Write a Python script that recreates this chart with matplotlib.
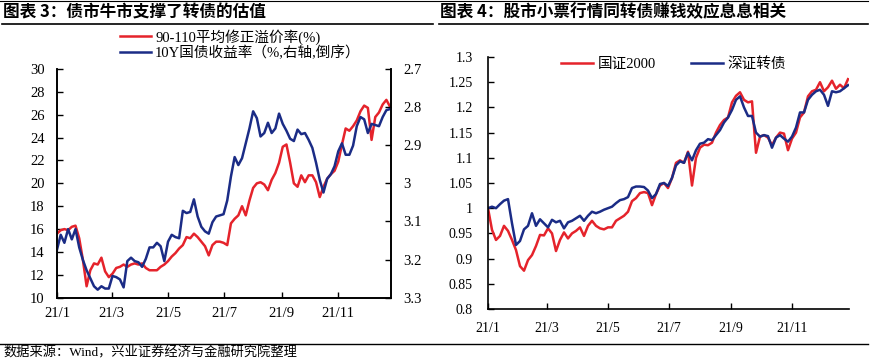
import matplotlib
matplotlib.use("Agg")
import matplotlib.pyplot as plt
import pandas as pd
from matplotlib.lines import Line2D

plt.rcParams['font.family'] = ['Liberation Serif', 'Noto Sans CJK SC']
TITLE_FONT = ['Noto Sans CJK SC', 'DejaVu Sans']

RED = '#E5232B'
BLUE = '#1B2C86'

premium_90_110 = [
    15.6, 15.9, 16.0, 15.9, 16.2, 16.3, 15.2, 13.3, 11.0, 12.4,
    13.0, 12.9, 13.5, 12.3, 11.8, 12.1, 12.6, 12.7, 12.9, 12.7,
    12.9, 13.0, 12.9, 13.0, 12.6, 12.4, 12.4, 12.4, 12.7, 12.9,
    13.2, 13.6, 13.9, 14.3, 14.6, 15.3, 15.2, 15.6, 15.3, 14.9,
    14.5, 13.7, 14.6, 14.9, 14.9, 14.8, 14.6, 16.5, 16.9, 17.2,
    18.0, 17.2, 18.5, 19.6, 20.0, 20.1, 19.9, 19.4, 20.3, 20.9,
    21.8, 23.2, 23.4, 21.8, 20.0, 19.7, 20.7, 20.1, 20.7, 20.7,
    20.1, 18.8, 19.7, 20.4, 20.8, 21.1, 21.9, 23.4, 24.8, 24.6,
    25.0, 25.5, 26.3, 26.8, 26.6, 23.8, 25.8, 26.2, 26.9, 27.3,
    26.7,
]
yield_10y = [
    3.174, 3.135, 3.156, 3.120, 3.147, 3.120, 3.168, 3.201, 3.228, 3.249,
    3.270, 3.279, 3.270, 3.276, 3.276, 3.243, 3.246, 3.252, 3.273, 3.204,
    3.195, 3.204, 3.207, 3.219, 3.198, 3.168, 3.168, 3.156, 3.165, 3.204,
    3.153, 3.135, 3.141, 3.144, 3.072, 3.078, 3.075, 3.042, 3.087, 3.114,
    3.126, 3.132, 3.102, 3.087, 3.084, 3.081, 3.045, 2.982, 2.931, 2.952,
    2.934, 2.895, 2.856, 2.811, 2.829, 2.877, 2.868, 2.841, 2.868, 2.856,
    2.817, 2.844, 2.862, 2.883, 2.889, 2.859, 2.871, 2.868, 2.886, 2.907,
    2.946, 2.991, 3.024, 2.988, 2.976, 2.955, 2.916, 2.895, 2.925, 2.925,
    2.901, 2.850, 2.826, 2.832, 2.868, 2.844, 2.847, 2.850, 2.826, 2.808,
    2.805,
]
gz2000 = [
    1.000, 0.957, 0.937, 0.945, 0.965, 0.955, 0.937, 0.917, 0.885, 0.876,
    0.897, 0.907, 0.925, 0.947, 0.946, 0.960, 0.950, 0.915, 0.937, 0.952,
    0.940, 0.950, 0.955, 0.962, 0.945, 0.965, 0.975, 0.965, 0.960, 0.958,
    0.962, 0.962, 0.975, 0.980, 0.985, 0.993, 1.014, 1.020, 1.030, 1.032,
    1.030, 1.006, 1.028, 1.045, 1.050, 1.040, 1.060, 1.090, 1.095, 1.090,
    1.112, 1.045, 1.100, 1.120, 1.126, 1.125, 1.130, 1.150, 1.165, 1.175,
    1.180, 1.210, 1.223, 1.230, 1.215, 1.210, 1.212, 1.110, 1.142, 1.145,
    1.140, 1.125, 1.140, 1.150, 1.148, 1.115, 1.138, 1.150, 1.180, 1.190,
    1.222, 1.232, 1.235, 1.250, 1.232, 1.240, 1.253, 1.237, 1.245, 1.238,
    1.256,
]
szcb = [
    1.000, 1.003, 1.000, 1.008, 1.015, 1.018, 0.970, 0.927, 0.935, 0.958,
    0.965, 0.990, 0.965, 0.978, 0.970, 0.962, 0.977, 0.972, 0.975, 0.960,
    0.972, 0.975, 0.980, 0.985, 0.975, 0.985, 0.993, 0.990, 0.993, 0.997,
    1.000, 1.003, 1.010, 1.016, 1.018, 1.022, 1.040, 1.043, 1.043, 1.042,
    1.035, 1.020, 1.028, 1.048, 1.050, 1.044, 1.060, 1.085, 1.093, 1.090,
    1.110, 1.095, 1.115, 1.128, 1.130, 1.137, 1.135, 1.145, 1.155, 1.170,
    1.180, 1.195, 1.215, 1.222, 1.200, 1.183, 1.183, 1.150, 1.142, 1.145,
    1.143, 1.120, 1.140, 1.145, 1.138, 1.132, 1.142, 1.160, 1.190, 1.190,
    1.215, 1.225, 1.232, 1.235, 1.225, 1.203, 1.232, 1.230, 1.232, 1.238,
    1.244,
]

tick_dates = ['2021-01-01', '2021-03-01', '2021-05-01', '2021-07-01', '2021-09-01', '2021-11-01']
tick_labels = ['21/1', '21/3', '21/5', '21/7', '21/9', '21/11']
left_yticks = [10, 12, 14, 16, 18, 20, 22, 24, 26, 28, 30]
right_yticks = [2.7, 2.8, 2.9, 3.0, 3.1, 3.2, 3.3]
panel4_yticks = [0.8, 0.85, 0.9, 0.95, 1.0, 1.05, 1.1, 1.15, 1.2, 1.25, 1.3]


def dates_for(vals):
    return pd.date_range('2021-01-01', periods=len(vals), freq='4D')


def fmt(v):
    return f"{v:g}"


def style_axis(ax, size):
    ax.tick_params(direction='in', length=4, width=1, labelsize=size, colors='black')
    ax.set_xticks(pd.to_datetime(tick_dates))
    ax.set_xticklabels(tick_labels)
    ax.set_xlim(pd.Timestamp('2021-01-01'), pd.Timestamp('2021-12-28'))
    for s in ax.spines.values():
        s.set_linewidth(1.2)
    ax.spines['top'].set_visible(False)


fig = plt.figure(figsize=(8.72, 3.6), dpi=100)

# ---- panel 3 ----
ax = fig.add_axes([57 / 872, 1 - 297.7 / 360, 334 / 872, 228.7 / 360])
ax.plot(dates_for(premium_90_110), premium_90_110, color=RED, lw=1.8,
        label='90-110平均修正溢价率(%)')
ax.set_ylim(10, 30)
ax.set_yticks(left_yticks)
ax.set_yticklabels([fmt(v) for v in left_yticks])
style_axis(ax, 10.5)
ax.tick_params(axis='y', pad=9)
ax.tick_params(axis='x', pad=7)

ax2 = ax.twinx()
ax2.plot(dates_for(yield_10y), yield_10y, color=BLUE, lw=1.8,
         label='10Y国债收益率（%,右轴,倒序）')
ax2.set_ylim(3.3, 2.7)
ax2.set_yticks(right_yticks)
ax2.set_yticklabels([fmt(v) for v in right_yticks])
ax2.tick_params(direction='in', length=4, width=1, labelsize=10.5, pad=9)
for s in ax2.spines.values():
    s.set_linewidth(1.2)
ax2.spines['top'].set_visible(False)

h1, l1 = ax.get_legend_handles_labels()
h2, l2 = ax2.get_legend_handles_labels()
fig.legend(h1 + h2, l1 + l2, loc='upper left', bbox_to_anchor=(120 / 872, 1 - 29 / 360),
           frameon=False, fontsize=10.5, handlelength=2.1, handletextpad=0.3,
           labelspacing=0.05, borderpad=0, borderaxespad=0)

# ---- panel 4 ----
bx = fig.add_axes([488 / 872, 1 - 309 / 360, 361 / 872, 252 / 360])
bx.plot(dates_for(gz2000), gz2000, color=RED, lw=1.8, label='国证2000')
bx.plot(dates_for(szcb), szcb, color=BLUE, lw=1.8, label='深证转债')
bx.set_ylim(0.8, 1.3)
bx.set_yticks(panel4_yticks)
bx.set_yticklabels([fmt(v) for v in panel4_yticks])
style_axis(bx, 10)
bx.spines['right'].set_visible(False)
bx.tick_params(axis='y', pad=11)
bx.tick_params(axis='x', pad=9)
bx.legend(loc='upper left', bbox_to_anchor=(561 / 872, 1 - 57 / 360),
          bbox_transform=fig.transFigure, ncol=2, frameon=False, fontsize=10.5,
          handlelength=2.2, handletextpad=0.3, columnspacing=2.4,
          borderpad=0, borderaxespad=0)

# ---- titles, rules, source ----
fig.text(3 / 872, 1 - 12 / 360, '图表 3：债市牛市支撑了转债的估值', family=TITLE_FONT,
         fontsize=12, fontweight='bold', va='center', ha='left')
fig.text(440 / 872, 1 - 12 / 360, '图表 4：股市小票行情同转债赚钱效应息息相关', family=TITLE_FONT,
         fontsize=12, fontweight='bold', va='center', ha='left')
for x0, x1 in [(2, 433), (439, 868)]:
    fig.add_artist(Line2D([x0 / 872, x1 / 872], [1 - 23.5 / 360] * 2,
                          transform=fig.transFigure, color='black', lw=1.2))
fig.add_artist(Line2D([0, 868 / 872], [1 - 0.8 / 360] * 2,
                      transform=fig.transFigure, color='black', lw=0.8))
fig.add_artist(Line2D([0, 868 / 872], [1 - 344 / 360] * 2,
                      transform=fig.transFigure, color='black', lw=1.0))
fig.text(3 / 872, 1 - 353 / 360, '数据来源：Wind，兴业证券经济与金融研究院整理',
         fontsize=9.5, va='center', ha='left')

fig.savefig('out.png', dpi=100)
